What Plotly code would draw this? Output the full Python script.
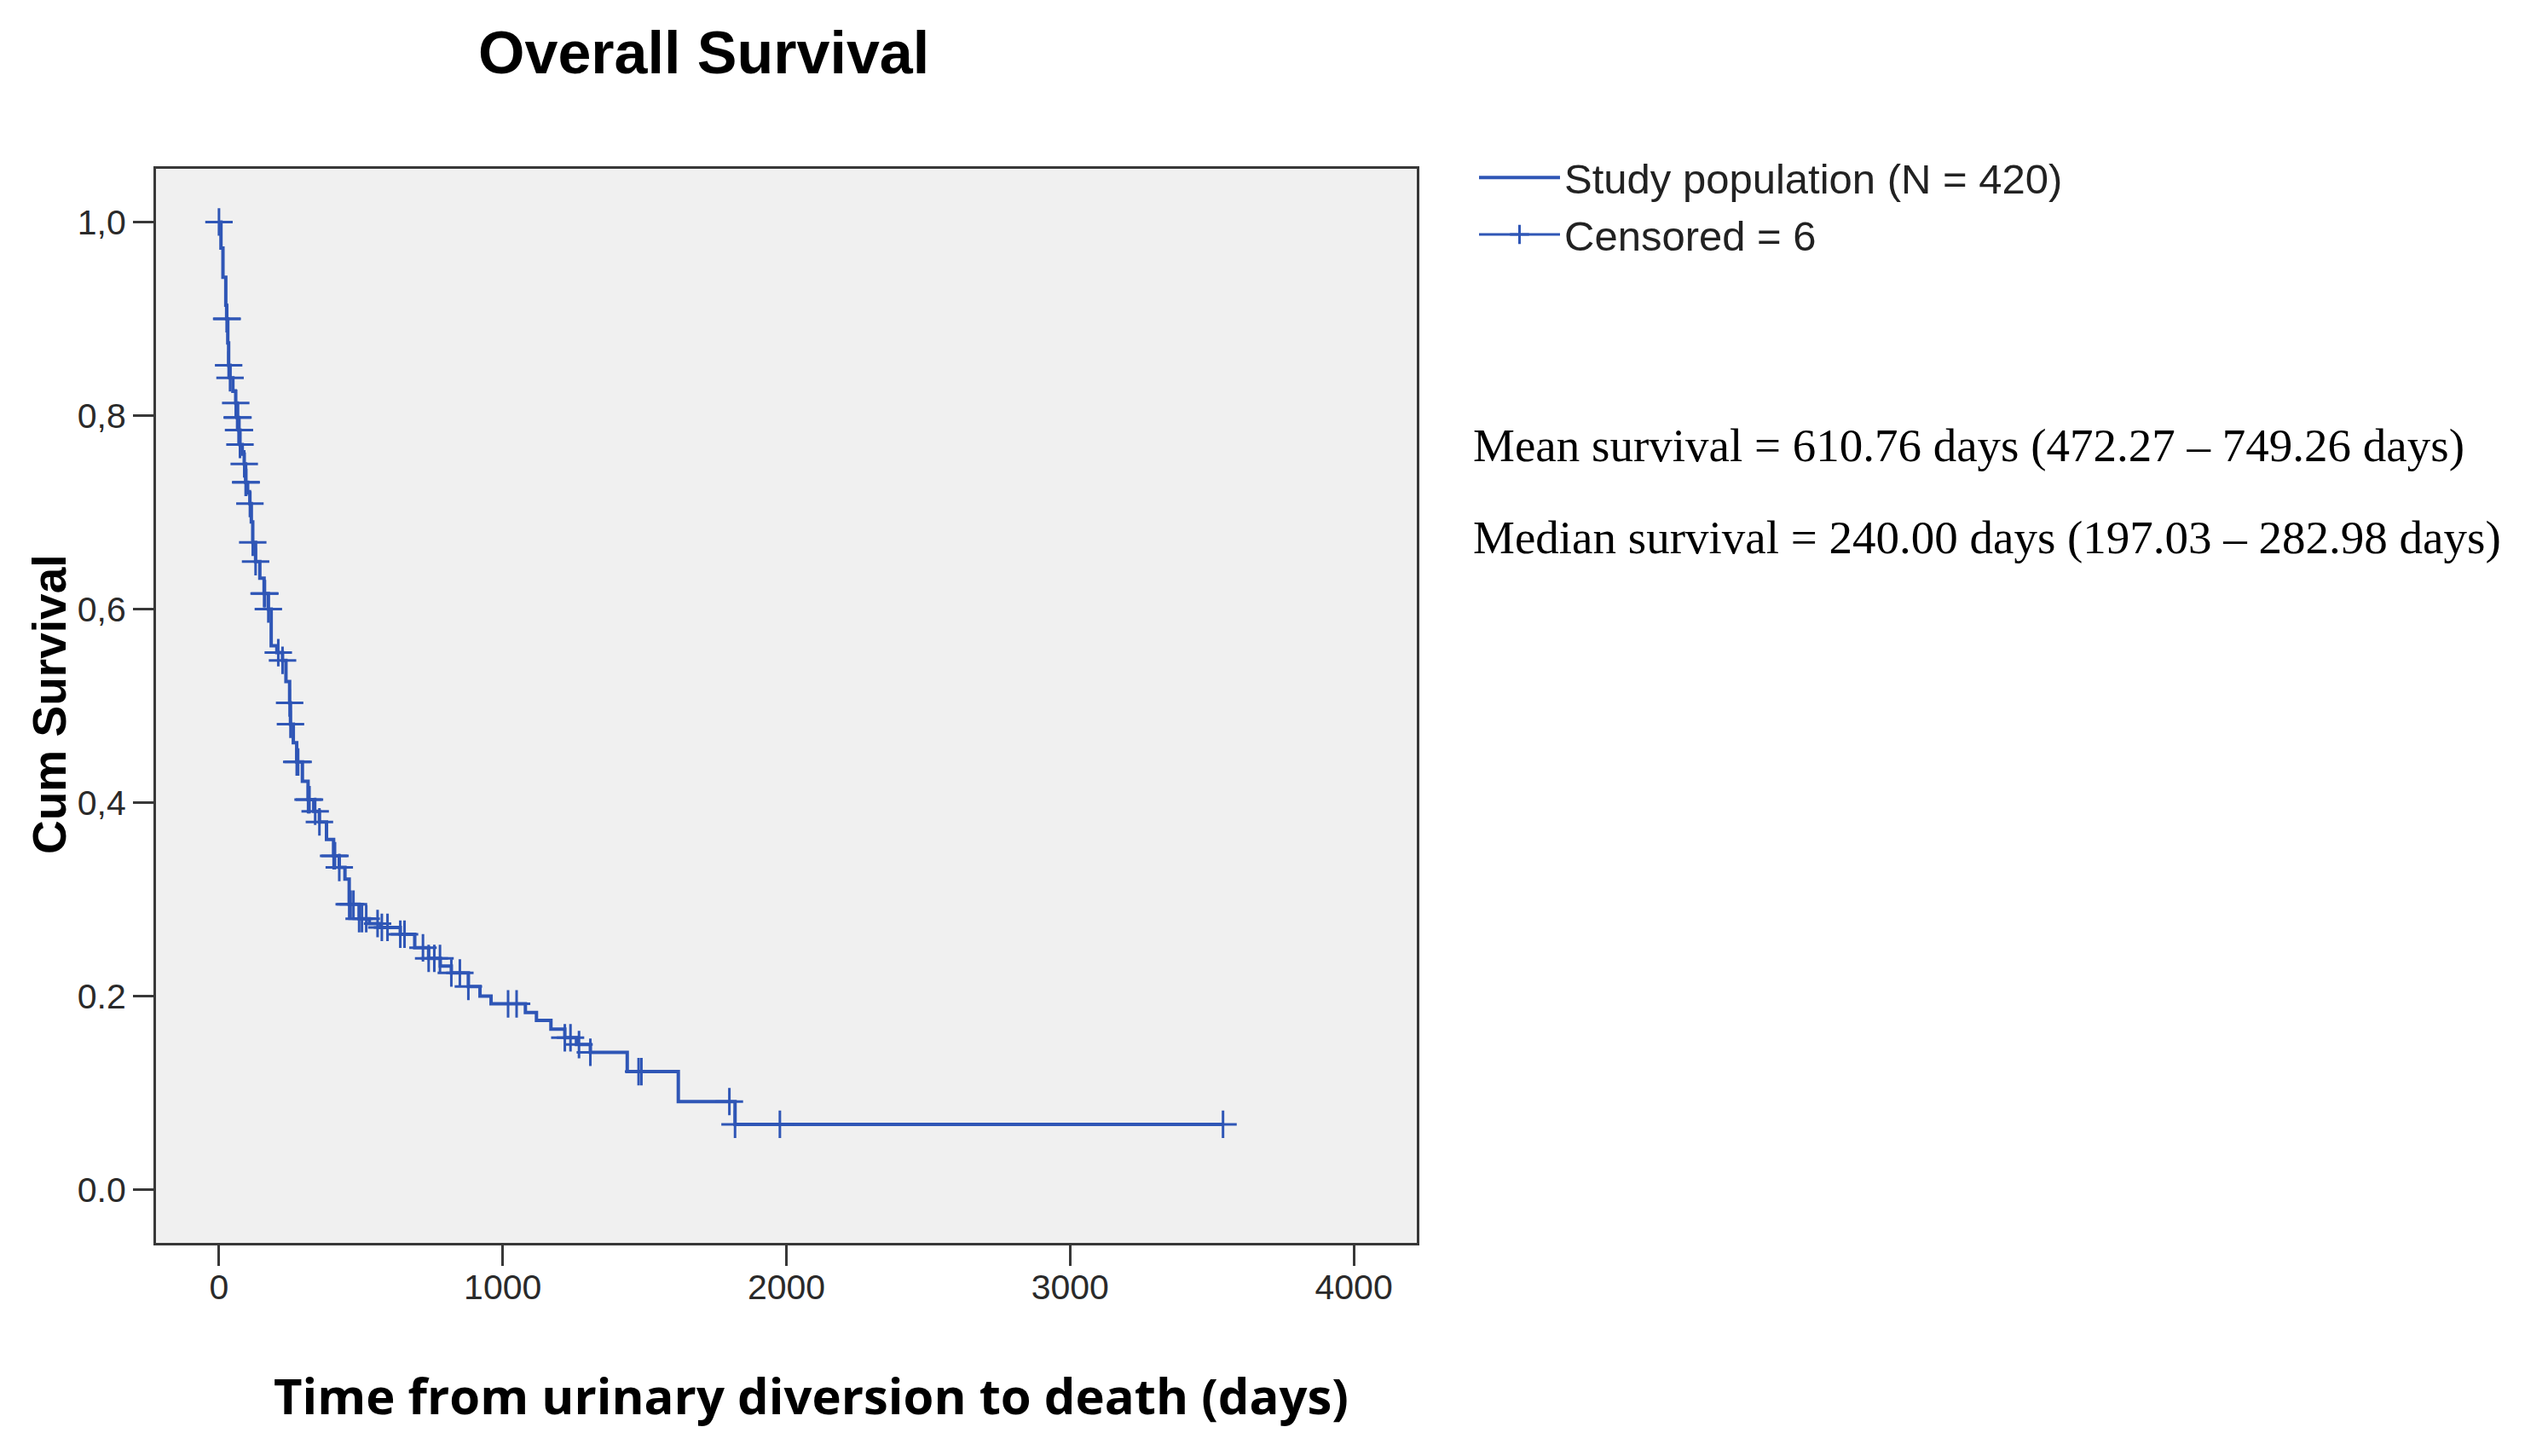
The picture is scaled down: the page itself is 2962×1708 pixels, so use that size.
import numpy as np
import plotly.graph_objects as go

# Kaplan-Meier step breakpoints (time in days, cumulative survival)
km_time = [0, 7, 14, 24, 27, 31, 34, 39, 49, 59, 64, 69, 74, 82, 89, 94, 101, 109, 114, 119,
           129, 144, 159, 174, 184, 204, 224, 236, 249, 252, 262, 274, 294, 314, 334, 354,
           379, 404, 424, 444, 459, 494, 530, 569, 639, 690, 739, 780, 819, 879, 920, 959,
           1080, 1119, 1170, 1219, 1260, 1309, 1439, 1619, 1819, 3539]
km_surv = [1.000, 0.973, 0.943, 0.914, 0.900, 0.875, 0.852, 0.839, 0.825, 0.813, 0.798, 0.785,
           0.770, 0.760, 0.750, 0.731, 0.720, 0.709, 0.690, 0.669, 0.649, 0.632, 0.616, 0.600,
           0.562, 0.555, 0.547, 0.525, 0.503, 0.481, 0.462, 0.442, 0.422, 0.403, 0.391, 0.380,
           0.362, 0.345, 0.333, 0.321, 0.295, 0.280, 0.275, 0.271, 0.264, 0.250, 0.239, 0.231,
           0.224, 0.210, 0.200, 0.192, 0.183, 0.175, 0.166, 0.157, 0.150, 0.142, 0.122, 0.091,
           0.0675, 0.0675]

# Censored observation times (days)
censor_time = [0, 27, 29, 34, 39, 59, 64, 67, 69, 72, 74, 89, 94, 96, 109, 119, 129, 159, 162,
               174, 209, 224, 249, 252, 274, 279, 314, 319, 339, 354, 404, 409, 424, 459, 464,
               474, 494, 504, 519, 559, 574, 594, 639, 654, 719, 739, 759, 779, 819, 849, 879,
               1019, 1049, 1219, 1239, 1269, 1309, 1479, 1489, 1799, 1819, 1977, 3539]

x_ticks = [0, 1000, 2000, 3000, 4000]
y_ticks = [0.0, 0.2, 0.4, 0.6, 0.8, 1.0]
y_tick_text = ["0.0", "0.2", "0,4", "0,6", "0,8", "1,0"]

series_name = "Study population (N = 420)"
censor_name = "Censored = 6"
stats_lines = ["Mean survival = 610.76 days (472.27 \u2013 749.26 days)",
               "Median survival = 240.00 days (197.03 \u2013 282.98 days)"]

BLUE = "#2F56B6"

# survival at each censor time from the step function
kt = np.array(km_time)
ks = np.array(km_surv)
idx = np.searchsorted(kt, np.array(censor_time), side="right") - 1
censor_surv = ks[np.clip(idx, 0, len(ks) - 1)]

fig = go.Figure()
fig.add_trace(go.Scatter(x=km_time, y=km_surv, mode="lines", line_shape="hv",
                         line=dict(color=BLUE, width=4), name=series_name))
fig.add_trace(go.Scatter(x=censor_time, y=censor_surv, mode="markers",
                         marker=dict(symbol="cross-thin", size=23,
                                     line=dict(color=BLUE, width=3), color=BLUE),
                         name=censor_name, showlegend=False))
# legend entry for censoring (line + cross, as in the reference legend)
fig.add_trace(go.Scatter(x=[None], y=[None], mode="lines+markers",
                         line=dict(color=BLUE, width=3),
                         marker=dict(symbol="cross-thin", size=30,
                                     line=dict(color=BLUE, width=3), color=BLUE),
                         name=censor_name))

OFF = 8  # page body margin
W, H = 2962 - 2 * OFF, 1708 - 2 * OFF
L, R, T, B = 183 - OFF, 1662 - OFF, 198 - OFF, 1458 - OFF
pw, ph = R - L, B - T

def px(xp):
    return (xp - OFF - L) / pw

def py(yp):
    return (B - (yp - OFF)) / ph

axis_common = dict(showgrid=False, zeroline=False, showline=True, mirror=True,
                   linecolor="#383838", linewidth=3, ticks="outside", ticklen=24,
                   tickwidth=3, tickcolor="#383838",
                   tickfont=dict(family="Liberation Sans, Arial", size=41, color="#2a2a2a"))

fig.update_layout(
    width=W, height=H,
    margin=dict(l=L, r=W - R, t=T, b=H - B),
    paper_bgcolor="white", plot_bgcolor="#F0F0F0",
    showlegend=True,
    legend=dict(x=px(1730), y=py(170), xanchor="left", yanchor="top",
                font=dict(family="Liberation Sans, Arial", size=49, color="#222222"),
                itemwidth=95, tracegroupgap=0, bgcolor="rgba(0,0,0,0)"),
    xaxis=dict(range=[-222, 4222], tickvals=x_ticks, ticklabelstandoff=-10, **axis_common),
    yaxis=dict(range=[-0.055, 1.055], tickvals=y_ticks, ticktext=y_tick_text, **axis_common),
    annotations=[
        dict(text="<b>Overall Survival</b>", x=px(825), y=py(62), xref="paper", yref="paper",
             showarrow=False, xanchor="center", yanchor="middle",
             font=dict(family="Liberation Sans, Arial", size=70, color="black")),
        dict(text="<b>Cum Survival</b>", x=px(58), y=py(826), xref="paper", yref="paper",
             showarrow=False, xanchor="center", yanchor="middle", textangle=-90,
             font=dict(family="Liberation Sans, Arial", size=55, color="black")),
        dict(text="<b>Time from urinary diversion to death (days)</b>", x=px(951), y=py(1636),
             xref="paper", yref="paper", showarrow=False, xanchor="center", yanchor="middle",
             font=dict(family="Open Sans", size=58, color="black")),
        dict(text=stats_lines[0], x=px(1726), y=py(522), xref="paper", yref="paper",
             showarrow=False, xanchor="left", yanchor="middle",
             font=dict(family="Liberation Serif, Times New Roman", size=55, color="black")),
        dict(text=stats_lines[1], x=px(1726), y=py(630), xref="paper", yref="paper",
             showarrow=False, xanchor="left", yanchor="middle",
             font=dict(family="Liberation Serif, Times New Roman", size=55, color="black")),
    ],
)

fig.write_html("out.html")
